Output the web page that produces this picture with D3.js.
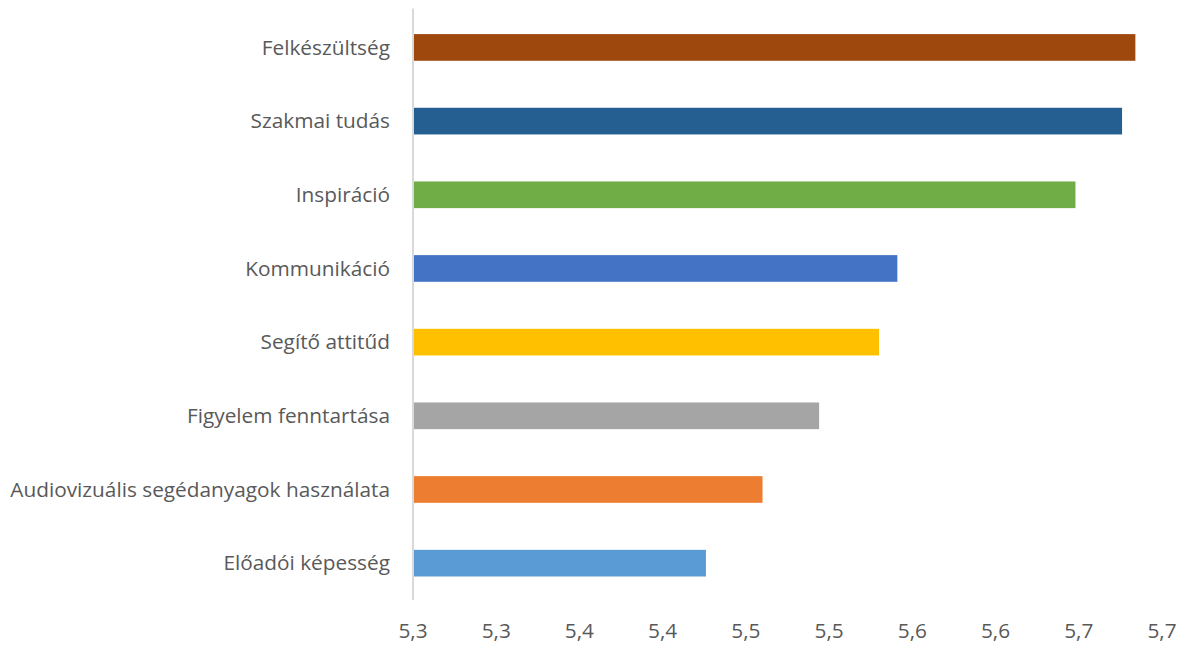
<!DOCTYPE html>
<html>
<head>
<meta charset="utf-8">
<script src="https://cdn.jsdelivr.net/npm/d3@7"></script>
<style>
  body { margin: 0; background: #fff; }
  text { font-family: "Open Sans", Lato, sans-serif; fill: #595959; }
</style>
</head>
<body>
<div id="VisContainer"></div>
<script>
// values
categories = ["Felkészültség", "Szakmai tudás", "Inspiráció", "Kommunikáció",
              "Segítő attitűd", "Figyelem fenntartása",
              "Audiovizuális segédanyagok használata", "Előadói képesség"];
values = [5.684, 5.676, 5.648, 5.541, 5.530, 5.494, 5.460, 5.426];
colors = ["#9E480E", "#255E91", "#70AD47", "#4472C4",
          "#FFC000", "#A5A5A5", "#ED7D31", "#5B9BD5"];
tickValues = [5.25, 5.30, 5.35, 5.40, 5.45, 5.50, 5.55, 5.60, 5.65, 5.70];

W = 1189, H = 646;
margin = {top: 10.6, right: 27, bottom: 46, left: 413};
width = W - margin.left - margin.right;
height = H - margin.top - margin.bottom;

svg = d3.select("#VisContainer").append("svg")
        .attr("width", W)
        .attr("height", H)
        .append("g")
        .attr("transform", "translate(" + margin.left + "," + margin.top + ")");

x = d3.scaleLinear().domain([5.25, 5.70]).range([0, width]);
y = d3.scaleBand().domain(categories).range([0, height]).padding(0);

barH = y.bandwidth() * 0.362;

svg.selectAll("rect.bar")
   .data(categories)
   .enter().append("rect")
   .attr("class", "bar")
   .attr("x", x(5.25))
   .attr("y", function(d){ return y(d) + (y.bandwidth() - barH) / 2; })
   .attr("width", function(d, i){ return x(values[i]) - x(5.25); })
   .attr("height", barH)
   .attr("fill", function(d, i){ return colors[i]; });

// vertical axis line
svg.append("line")
   .attr("x1", 0).attr("x2", 0)
   .attr("y1", -2).attr("y2", height)
   .attr("stroke", "#d9d9d9")
   .attr("stroke-width", 2);

// category labels
svg.selectAll("text.cat")
   .data(categories)
   .enter().append("text")
   .attr("class", "cat")
   .attr("x", -23)
   .attr("y", function(d){ return y(d) + y.bandwidth() / 2; })
   .attr("dy", "0.35em")
   .attr("text-anchor", "end")
   .style("font-size", "20.8px")
   .text(function(d){ return d; });

// x tick labels
fmt = function(v){ return d3.format(".1f")(v + 1e-9).replace(".", ","); };
svg.selectAll("text.tick")
   .data(tickValues)
   .enter().append("text")
   .attr("class", "tick")
   .attr("x", function(d){ return x(d); })
   .attr("y", height + 38)
   .attr("text-anchor", "middle")
   .style("font-size", "20.8px")
   .text(fmt);
</script>
</body>
</html>
